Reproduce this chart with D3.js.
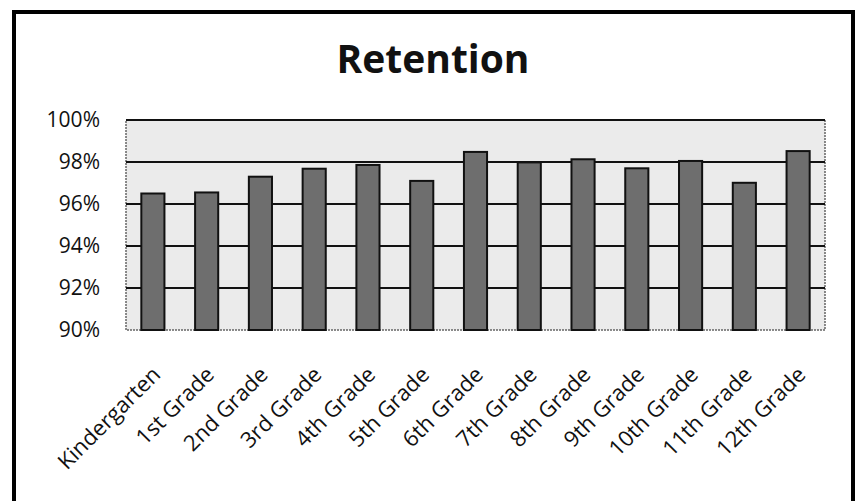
<!DOCTYPE html>
<html lang="en">
<head>
  <meta charset="utf-8">
  <title>Retention</title>
  <script src="https://cdnjs.cloudflare.com/ajax/libs/d3/7.8.5/d3.min.js"></script>
  <style type="text/css">
	body {
		margin: 0;
		background: #fff;
	}
	svg text {
		font-family: "Open Sans", "Noto Sans", sans-serif;
		fill: #111;
	}
	.axis path, .axis line {
		display: none;
	}
  </style>
</head>
<body>
<svg id="chart"></svg>
<script>
	var grades = ["Kindergarten", "1st Grade", "2nd Grade", "3rd Grade", "4th Grade", "5th Grade",
		"6th Grade", "7th Grade", "8th Grade", "9th Grade", "10th Grade", "11th Grade", "12th Grade"];
	var retention = [96.5, 96.55, 97.3, 97.68, 97.86, 97.1, 98.48, 97.98, 98.13, 97.7, 98.05, 97.01, 98.52];
	var yTicks = [90, 92, 94, 96, 98, 100];

	var w = 857;
	var h = 501;
	var plot = { left: 126, right: 825, top: 120, bottom: 330 };

	var svg = d3.select("#chart")
		.attr("width", w)
		.attr("height", h);

	//outer frame
	svg.append("rect")
		.attr("x", 14)
		.attr("y", 12)
		.attr("width", 839)
		.attr("height", 500)
		.attr("fill", "none")
		.attr("stroke", "#000")
		.attr("stroke-width", 4);

	var xScale = d3.scaleBand()
		.domain(grades)
		.range([plot.left, plot.right])
		.paddingInner(0.57)
		.paddingOuter(0.285);
	var yScale = d3.scaleLinear()
		.domain([90, 100])
		.range([plot.bottom, plot.top]);

	//plot background
	svg.append("rect")
		.attr("x", plot.left)
		.attr("y", plot.top)
		.attr("width", plot.right - plot.left)
		.attr("height", plot.bottom - plot.top)
		.attr("fill", "#ebebeb")
		.attr("stroke", "#666")
		.attr("stroke-width", 1.5)
		.attr("stroke-dasharray", "2,1");

	//gridlines
	svg.selectAll("line.grid").data(yTicks.slice(1))
		.enter().append("line")
		.attr("class", "grid")
		.attr("x1", plot.left)
		.attr("x2", plot.right)
		.attr("y1", function(d) { return yScale(d); })
		.attr("y2", function(d) { return yScale(d); })
		.attr("stroke", "#111")
		.attr("stroke-width", 1.8);

	//bars
	svg.selectAll("rect.bar").data(retention)
		.enter().append("rect")
		.attr("class", "bar")
		.attr("x", function(d, i) { return xScale(grades[i]); })
		.attr("y", function(d) { return yScale(d); })
		.attr("width", xScale.bandwidth())
		.attr("height", function(d) { return plot.bottom - yScale(d); })
		.attr("fill", "#6e6e6e")
		.attr("stroke", "#111")
		.attr("stroke-width", 2);

	//y axis
	var yAxis = d3.axisLeft(yScale)
		.tickValues(yTicks)
		.tickSize(0)
		.tickPadding(0)
		.tickFormat(function(d) { return d + "%"; });
	svg.append("g")
		.attr("class", "axis")
		.attr("transform", "translate(100,0)")
		.call(yAxis)
		.selectAll("text")
		.style("font-size", "21px");

	//x axis
	var xAxis = d3.axisBottom(xScale).tickSize(0).tickPadding(0);
	svg.append("g")
		.attr("class", "axis")
		.attr("transform", "translate(-2," + (plot.bottom + 35) + ")")
		.call(xAxis)
		.selectAll("text")
		.style("font-size", "22px")
		.attr("text-anchor", "end")
		.attr("dy", "0.7em")
		.attr("transform", "rotate(-45)");

	//title
	svg.append("text")
		.attr("x", 433)
		.attr("y", 73)
		.attr("text-anchor", "middle")
		.attr("font-weight", "bold")
		.style("font-size", "39px")
		.text("Retention");
</script>
</body>
</html>
